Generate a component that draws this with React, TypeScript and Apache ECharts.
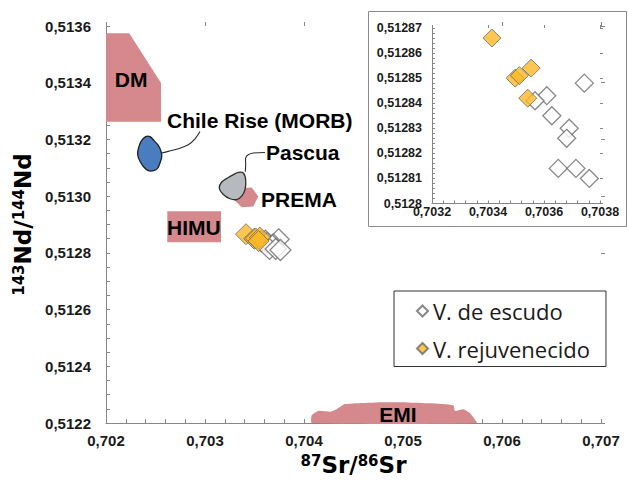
import React, { useEffect, useRef } from "react";
import * as echarts from "echarts";

// ---- axis ranges and ticks ----
const mainSrRange = [0.702, 0.707];
const mainSrStep = 0.001;
const mainNdRange = [0.5122, 0.5136];
const mainNdStep = 0.0002;
const insetSrRange = [0.7032, 0.7038];
const insetSrStep = 0.0002;
const insetNdRange = [0.5128, 0.51287];
const insetNdStep = 0.00001;

// ---- samples ----
const seriesNames = ["V. de escudo", "V. rejuvenecido"];
const escudoSr = [0.703744, 0.70361, 0.703568, 0.703628, 0.70369, 0.703681, 0.703651, 0.703714, 0.703762];
const escudoNd = [0.512848, 0.512843, 0.512841, 0.512835, 0.51283, 0.512826, 0.512814, 0.512814, 0.51281];
const rejuvSr = [0.703414, 0.703497, 0.703512, 0.703554, 0.703542];
const rejuvNd = [0.512866, 0.51285, 0.512851, 0.512854, 0.512842];

// ---- mantle reservoir fields, outlines as [Sr, Nd] ----
const dmField = [
  [0.702, 0.513574], [0.702235, 0.513574], [0.702556, 0.513399], [0.702556, 0.513262], [0.702, 0.513262],
];
const emiField = [
  [0.704078, 0.5122], [0.704078, 0.512228], [0.704144, 0.512243], [0.704263, 0.51224], [0.70433, 0.512249],
  [0.704414, 0.512267], [0.704734, 0.512273], [0.705037, 0.512273], [0.705273, 0.51227], [0.705508, 0.512263],
  [0.705525, 0.512243], [0.705609, 0.512249], [0.705677, 0.512235], [0.705744, 0.5122],
];
const himuField = [
  [0.702619, 0.512947], [0.703162, 0.512947], [0.703162, 0.512838], [0.702619, 0.512838],
];
const premaField = [
  [0.703354, 0.513029], [0.703472, 0.513031], [0.703538, 0.512999], [0.703488, 0.512964], [0.703371, 0.512961], [0.703303, 0.512984],
];
const chileField = [
  [0.702401, 0.51321], [0.702444, 0.51321], [0.702488, 0.513195], [0.702528, 0.513179], [0.702556, 0.513158],
  [0.702563, 0.51314], [0.702545, 0.513117], [0.702522, 0.513099], [0.702478, 0.51309], [0.702427, 0.51309],
  [0.702384, 0.513102], [0.702343, 0.513123], [0.70232, 0.513146], [0.702326, 0.513167], [0.702354, 0.513193],
];
const pascuaField = [
  [0.703336, 0.513084], [0.703387, 0.513082], [0.703411, 0.513058], [0.703404, 0.513023], [0.703371, 0.513],
  [0.70332, 0.512988], [0.703253, 0.512991], [0.703185, 0.513006], [0.703144, 0.513029], [0.703169, 0.51305],
  [0.703235, 0.513066], [0.703296, 0.513078],
];
const chileLeader = [
  [0.702563, 0.513152], [0.702629, 0.513158], [0.70273, 0.513167], [0.702831, 0.513181], [0.702899, 0.513202], [0.702949, 0.513228],
];
const pascuaLeader = [
  [0.703407, 0.513086], [0.703411, 0.513111], [0.703411, 0.513135], [0.703437, 0.513146], [0.703488, 0.513152], [0.703606, 0.513154],
];

// ---- field labels ----
const fieldLabels = ["DM", "Chile Rise (MORB)", "Pascua", "PREMA", "HIMU", "EMI"];
const fieldLabelSr = [0.702253, 0.702616, 0.703616, 0.703566, 0.702616, 0.704949];
const fieldLabelNd = [0.51341, 0.513266, 0.513155, 0.512988, 0.512889, 0.512232];
const fieldLabelAlign = ["center", "left", "left", "left", "left", "center"];

// ---- styles ----
const PINK = "#D5898C";
const AXIS = "#868686";
const LABEL = "#1a1a1a";
const ORANGE = "#FBB826";

const regionDefs = [
  { pts: dmField, fill: PINK, stroke: null, smooth: 0 },
  { pts: emiField, fill: PINK, stroke: null, smooth: 0.15 },
  { pts: himuField, fill: PINK, stroke: null, smooth: 0 },
  { pts: premaField, fill: PINK, stroke: null, smooth: 0 },
  { pts: chileField, fill: "#4A7CC0", stroke: "#1e1e1e", smooth: 0.35 },
  { pts: pascuaField, fill: "#B6BABE", stroke: "#2e2e2e", smooth: 0.35 },
];
const leaderDefs = [chileLeader, pascuaLeader];

const fmtFixed = (d: number) => (v: number) => v.toFixed(d).replace(".", ",");
const fmtGeneral = (d: number) => (v: number) => v.toFixed(d).replace(/0+$/, "").replace(".", ",");

const BOLD_FONT = "'Liberation Sans', Arial, sans-serif";
const TITLE_FONT = "'DejaVu Sans', sans-serif";

function makeAxisPair(
  gridIndex: number,
  range: number[],
  step: number,
  minorSplit: number,
  labelSize: number,
  labelMargin: number,
  formatter: (v: number) => string,
  tickLen: number,
  extra: any,
  z: number
) {
  const base = {
    type: "value",
    gridIndex,
    min: range[0],
    max: range[1],
    interval: step,
    splitLine: { show: false },
    z,
  };
  const primary = {
    ...base,
    axisLine: { show: true, onZero: false, lineStyle: { color: AXIS, width: 1 } },
    axisTick: { show: true, inside: true, length: tickLen, lineStyle: { color: AXIS } },
    minorTick: { show: true, splitNumber: minorSplit, length: tickLen, lineStyle: { color: AXIS } },
    axisLabel: {
      show: true,
      fontFamily: BOLD_FONT,
      fontWeight: "bold",
      fontSize: labelSize,
      color: LABEL,
      margin: labelMargin,
      formatter,
    },
    ...extra,
  };
  const outer = {
    ...base,
    axisLine: { show: false, onZero: false },
    axisTick: { show: true, inside: false, length: tickLen, lineStyle: { color: AXIS } },
    minorTick: { show: false },
    axisLabel: { show: false },
  };
  return [primary, outer];
}

const titleRich = {
  sup: { fontFamily: TITLE_FONT, fontWeight: "bold", fontSize: 15, color: "#000", verticalAlign: "top" },
  main: { fontFamily: TITLE_FONT, fontWeight: "bold", fontSize: 23, color: "#000", verticalAlign: "bottom" },
};

export default function App() {
  const ref = useRef<HTMLDivElement>(null);

  useEffect(() => {
    if (!ref.current) return;
    const chart = echarts.init(ref.current, null, { renderer: "svg" });

    const mainX = makeAxisPair(0, mainSrRange, mainSrStep, 5, 15, 10, fmtFixed(3), 4, {
      name: "{sup|87}{main|Sr/}{sup|86}{main|Sr}",
      nameLocation: "middle",
      nameGap: 22,
      nameTextStyle: { rich: titleRich },
    }, 0);
    const mainY = makeAxisPair(0, mainNdRange, mainNdStep, 4, 15, 15, fmtFixed(4), 4, {
      name: "{sup|143}{main|Nd/}{sup|144}{main|Nd}",
      nameLocation: "middle",
      nameGap: 66,
      nameRotate: 90,
      nameTextStyle: { rich: titleRich },
    }, 0);
    const insetX = makeAxisPair(1, insetSrRange, insetSrStep, 5, 12.5, 2, fmtFixed(4), 3, {}, 3);
    const insetY = makeAxisPair(1, insetNdRange, insetNdStep, 5, 12.5, 10, fmtGeneral(5), 3, {}, 3);

    const escudoData = escudoSr.map((x, i) => [x, escudoNd[i]]);
    const rejuvData = rejuvSr.map((x, i) => [x, rejuvNd[i]]);

    const escudoStyle = { color: "#ffffff", borderColor: "#6a6a6a", borderWidth: 1.3 };
    const rejuvStyle = { color: ORANGE, borderColor: "#6a6a6a", borderWidth: 1 };

    const option: any = {
      animation: false,
      backgroundColor: "#ffffff",
      grid: [
        { left: 106, top: 26, width: 495, height: 398 },
        { left: 432, top: 28, width: 168, height: 175.5 },
      ],
      xAxis: [mainX[0], mainX[1], insetX[0], insetX[1]],
      yAxis: [mainY[0], mainY[1], insetY[0], insetY[1]],
      legend: {
        orient: "vertical",
        left: 394,
        top: 291,
        padding: [9, 16, 7, 22],
        itemGap: 15.5,
        itemWidth: 11,
        itemHeight: 11,
        borderColor: "#333333",
        borderWidth: 1,
        backgroundColor: "#ffffff",
        selectedMode: false,
        textStyle: { fontFamily: "'Open Sans', sans-serif", fontSize: 22, color: "#1a1a1a" },
        data: [
          { name: seriesNames[0], icon: "diamond" },
          { name: seriesNames[1], icon: "diamond" },
        ],
      },
      graphic: [
        {
          type: "rect",
          z: 0,
          shape: { x: 368.5, y: 11.5, width: 258, height: 215 },
          style: { fill: "#ffffff", stroke: "#8c8c8c", lineWidth: 1 },
        },
      ],
      series: [
        {
          type: "custom",
          name: "fields",
          xAxisIndex: 0,
          yAxisIndex: 0,
          z: 1,
          clip: false,
          data: regionDefs.map((r) => r.pts[0]),
          encode: { x: 0, y: 1 },
          renderItem: (params: any, api: any) => {
            const r = regionDefs[params.dataIndex];
            const pts = r.pts.map((p) => api.coord(p));
            return {
              type: "polygon",
              shape: { points: pts, smooth: r.smooth },
              style: {
                fill: r.fill,
                stroke: r.stroke || "none",
                lineWidth: r.stroke ? 1.3 : 0,
              },
            };
          },
        },
        {
          type: "custom",
          name: "leaders",
          xAxisIndex: 0,
          yAxisIndex: 0,
          z: 1,
          clip: false,
          data: leaderDefs.map((l) => l[0]),
          encode: { x: 0, y: 1 },
          renderItem: (params: any, api: any) => {
            const l = leaderDefs[params.dataIndex];
            return {
              type: "polyline",
              shape: { points: l.map((p) => api.coord(p)), smooth: 0.3 },
              style: { fill: "none", stroke: "#2a2a2a", lineWidth: 1.1 },
            };
          },
        },
        {
          type: "scatter",
          name: seriesNames[0],
          xAxisIndex: 0,
          yAxisIndex: 0,
          symbol: "diamond",
          symbolSize: 21,
          itemStyle: escudoStyle,
          data: escudoData,
          z: 3,
        },
        {
          type: "scatter",
          name: seriesNames[1],
          xAxisIndex: 0,
          yAxisIndex: 0,
          symbol: "diamond",
          symbolSize: 21,
          itemStyle: rejuvStyle,
          data: rejuvData,
          z: 4,
        },
        {
          type: "scatter",
          name: seriesNames[0],
          xAxisIndex: 2,
          yAxisIndex: 2,
          symbol: "diamond",
          symbolSize: 18,
          itemStyle: escudoStyle,
          data: escudoData,
          z: 5,
        },
        {
          type: "scatter",
          name: seriesNames[1],
          xAxisIndex: 2,
          yAxisIndex: 2,
          symbol: "diamond",
          symbolSize: 18,
          itemStyle: rejuvStyle,
          data: rejuvData,
          z: 6,
        },
        {
          type: "custom",
          name: "field labels",
          xAxisIndex: 0,
          yAxisIndex: 0,
          z: 7,
          clip: false,
          data: fieldLabelSr.map((x, i) => [x, fieldLabelNd[i]]),
          encode: { x: 0, y: 1 },
          renderItem: (params: any, api: any) => {
            const i = params.dataIndex;
            const p = api.coord([fieldLabelSr[i], fieldLabelNd[i]]);
            return {
              type: "text",
              x: p[0],
              y: p[1],
              style: {
                text: fieldLabels[i],
                fill: "#000000",
                fontFamily: BOLD_FONT,
                fontWeight: "bold",
                fontSize: 21,
                align: fieldLabelAlign[i],
                textAlign: fieldLabelAlign[i],
                verticalAlign: "middle",
                textVerticalAlign: "middle",
              },
            };
          },
        },
      ],
    };

    chart.setOption(option);
    return () => chart.dispose();
  }, []);

  return (
    <div
      ref={ref}
      style={{ position: "fixed", left: 0, top: 0, width: 628, height: 481, background: "#fff" }}
    />
  );
}
